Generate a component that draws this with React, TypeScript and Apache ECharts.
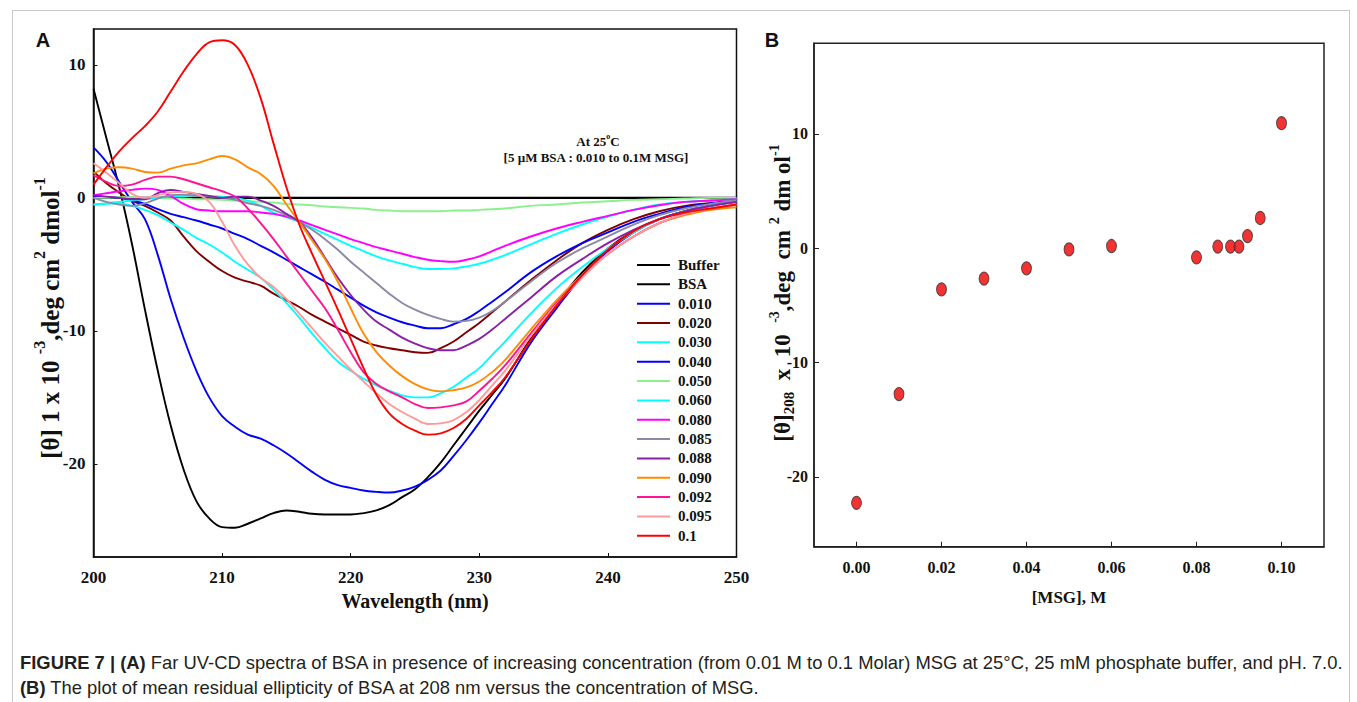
import React, { useEffect, useRef } from "react";
import * as echarts from "echarts";

// ---------- Panel A data (far UV-CD spectra) ----------
const wavelengths = [
  200, 201, 202, 203, 204, 205, 206, 207, 208, 209, 210, 211, 212, 213, 214, 215, 216,
  217, 218, 219, 220, 221, 222, 223, 224, 225, 226, 227, 228, 229, 230, 231, 232,
  234, 236, 238, 240, 242, 244, 246, 248, 250,
];

const seriesNames = [
  "Buffer", "BSA", "0.010", "0.020", "0.030", "0.040", "0.050", "0.060",
  "0.080", "0.085", "0.088", "0.090", "0.092", "0.095", "0.1",
];

const bufferValues = [
  0, 0, 0, 0, 0, 0, 0, 0, 0, 0, 0, 0, 0, 0, 0, 0, 0, 0, 0, 0, 0,
  0, 0, 0, 0, 0, 0, 0, 0, 0, 0, 0, 0, 0, 0, 0, 0, 0, 0, 0, 0, 0,
];
const bsaValues = [
  8.2, 4.5, 0.8, -3.5, -8.4, -13.0, -17.1, -20.4, -22.8, -24.1, -24.75, -24.8, -24.5, -24.1, -23.7, -23.5, -23.6,
  -23.75, -23.8, -23.8, -23.8, -23.7, -23.5, -23.1, -22.5, -21.9, -21.0, -19.9, -18.6, -17.3, -16.0, -14.8, -13.6,
  -10.6, -8.0, -5.6, -3.8, -2.5, -1.6, -1.0, -0.6, -0.3,
];
const msg010Values = [
  3.8, 2.7, 1.2, -0.3, -1.6, -4.3, -7.6, -10.5, -13.0, -15.0, -16.4, -17.2, -17.8, -18.1, -18.6, -19.2, -19.9,
  -20.6, -21.2, -21.6, -21.8, -22.0, -22.1, -22.15, -22.0, -21.7, -21.2, -20.5, -19.4, -18.2, -16.9, -15.5, -14.1,
  -10.9, -8.3, -5.9, -4.0, -2.6, -1.6, -1.0, -0.6, -0.3,
];
const msg020Values = [
  2.0, 1.1, 0.4, -0.2, -0.6, -1.1, -1.7, -2.9, -4.0, -4.8, -5.5, -6.0, -6.3, -6.6, -7.2, -7.7, -8.2,
  -8.8, -9.3, -9.8, -10.3, -10.8, -11.1, -11.3, -11.45, -11.6, -11.65, -11.3, -10.8, -10.1, -9.4, -8.6, -7.8,
  -6.2, -4.7, -3.4, -2.4, -1.6, -1.0, -0.6, -0.4, -0.3,
];
const msg030Values = [
  -0.5, -0.45, -0.4, -0.6, -0.9, -1.3, -1.85, -2.4, -3.0, -3.5, -4.1, -4.8, -5.4, -6.0, -6.9, -7.9, -9.0,
  -10.2, -11.3, -12.3, -13.0, -13.6, -14.1, -14.5, -14.85, -15.0, -15.0, -14.7, -14.2, -13.5, -12.8, -11.8, -10.8,
  -8.7, -6.8, -5.2, -3.8, -2.6, -1.6, -1.0, -0.6, -0.3,
];
const msg040Values = [
  0.1, 0.05, 0.0, -0.2, -0.45, -0.85, -1.2, -1.45, -1.7, -2.0, -2.3, -2.7, -3.1, -3.6, -4.1, -4.65, -5.2,
  -5.75, -6.3, -6.9, -7.5, -8.1, -8.6, -9.0, -9.35, -9.6, -9.8, -9.8, -9.5, -9.1, -8.5, -7.8, -7.1,
  -5.6, -4.4, -3.4, -2.6, -1.8, -1.2, -0.7, -0.4, -0.2,
];
const msg050Values = [
  0, 0, 0.05, 0.05, 0, 0, -0.05, -0.05, -0.1, -0.1, -0.15, -0.2, -0.25, -0.3, -0.35, -0.45, -0.5,
  -0.55, -0.65, -0.7, -0.75, -0.8, -0.9, -0.95, -1.0, -1.0, -1.0, -1.0, -0.95, -0.95, -0.9, -0.85, -0.8,
  -0.6, -0.5, -0.35, -0.25, -0.15, -0.1, -0.05, 0, 0,
];
const msg060Values = [
  -0.5, -0.4, -0.3, -0.2, -0.1, 0.0, 0.1, 0.15, 0.2, 0.15, 0.1, 0.0, -0.2, -0.6, -1.1, -1.45, -1.8,
  -2.25, -2.7, -3.15, -3.6, -4.0, -4.4, -4.7, -4.95, -5.2, -5.35, -5.35, -5.3, -5.15, -4.95, -4.65, -4.3,
  -3.5, -2.7, -2.0, -1.4, -0.9, -0.5, -0.3, -0.2, -0.1,
];
const msg080Values = [
  0.2, 0.35, 0.5, 0.6, 0.7, 0.6, 0.15, -0.45, -0.85, -0.95, -1.0, -1.0, -1.0, -1.1, -1.2, -1.4, -1.7,
  -2.05, -2.4, -2.75, -3.1, -3.4, -3.7, -3.95, -4.2, -4.45, -4.65, -4.75, -4.8, -4.65, -4.4, -4.0, -3.6,
  -2.9, -2.3, -1.8, -1.35, -0.9, -0.55, -0.3, -0.2, -0.1,
];
const msg085Values = [
  0.0, -0.3, -0.5, -0.6, -0.4, -0.05, 0.2, 0.25, 0.15, 0.1, 0.0, -0.15, -0.4, -0.6, -0.9, -1.3, -1.8,
  -2.4, -3.1, -3.9, -4.8, -5.6, -6.4, -7.2, -7.9, -8.4, -8.8, -9.1, -9.3, -9.25, -9.0, -8.5, -7.8,
  -6.3, -4.9, -3.8, -2.9, -2.0, -1.3, -0.8, -0.45, -0.2,
];
const msg088Values = [
  0.2, 0.1, 0.0, -0.1, -0.1, 0.35, 0.6, 0.45, 0.3, 0.15, 0.0, 0.1, 0.1, -0.2, -0.6, -1.2, -1.8,
  -3.0, -4.5, -6.0, -7.3, -8.4, -9.3, -9.9, -10.5, -10.95, -11.3, -11.45, -11.45, -11.1, -10.6, -9.9, -9.1,
  -7.5, -5.9, -4.6, -3.4, -2.4, -1.6, -1.0, -0.6, -0.3,
];
const msg090Values = [
  1.85, 2.2, 2.3, 2.2, 1.95, 1.9, 2.2, 2.45, 2.6, 2.9, 3.15, 2.9, 2.3, 1.8, 0.9, -0.5, -1.8,
  -3.2, -4.6, -6.3, -8.3, -10.2, -11.6, -12.6, -13.4, -14.0, -14.4, -14.55, -14.45, -14.25, -13.8, -13.1, -12.2,
  -9.9, -7.7, -5.8, -4.2, -2.9, -1.9, -1.3, -0.9, -0.7,
];
const msg092Values = [
  1.7, 1.2, 0.9, 1.0, 1.35, 1.6, 1.6, 1.4, 1.1, 0.8, 0.5, 0.1, -0.8, -1.9, -3.1, -4.4, -5.7,
  -7.0, -8.3, -9.9, -11.6, -13.1, -14.0, -14.55, -15.0, -15.5, -15.8, -15.75, -15.6, -15.3, -14.5, -13.6, -12.6,
  -10.2, -7.9, -5.9, -4.2, -2.9, -1.9, -1.2, -0.8, -0.5,
];
const msg095Values = [
  2.6, 1.9, 1.1, 0.3, 0.0, 0.2, 0.4, 0.45, 0.3, -0.3, -1.8, -3.6, -5.0, -6.0, -6.7, -7.6, -8.7,
  -9.8, -10.9, -11.9, -12.9, -13.8, -14.7, -15.5, -16.1, -16.6, -17.0, -16.95, -16.7, -16.1, -15.2, -14.1, -13.0,
  -10.4, -8.0, -6.0, -4.2, -2.9, -1.9, -1.2, -0.8, -0.5,
];
const msg100Values = [
  1.0, 2.3, 3.5, 4.5, 5.4, 6.5, 8.0, 9.5, 10.8, 11.7, 11.85, 11.5, 10.0, 7.5, 4.1, 0.8, -2.0,
  -4.2, -6.3, -8.4, -10.6, -12.8, -14.8, -16.2, -17.0, -17.5, -17.8, -17.7, -17.3, -16.6, -15.6, -14.6, -13.5,
  -10.7, -8.1, -5.8, -3.9, -2.5, -1.6, -1.1, -0.8, -0.5,
];

const spectra = [
  bufferValues, bsaValues, msg010Values, msg020Values, msg030Values, msg040Values, msg050Values,
  msg060Values, msg080Values, msg085Values, msg088Values, msg090Values, msg092Values, msg095Values, msg100Values,
];

const panelAXTicks = [200, 210, 220, 230, 240, 250];
const panelAYTicks = [-20, -10, 0, 10];

// ---------- Panel B data ----------
const msgConcentration = [0.0, 0.01, 0.02, 0.03, 0.04, 0.05, 0.06, 0.08, 0.085, 0.088, 0.09, 0.092, 0.095, 0.1];
const theta208 = [-22.26, -12.75, -3.6, -2.65, -1.75, -0.1, 0.2, -0.8, 0.15, 0.15, 0.15, 1.07, 2.65, 10.94];
const panelBXTicks = [0.0, 0.02, 0.04, 0.06, 0.08, 0.1];
const panelBYTicks = [-20, -10, 0, 10];

// ---------- Styles ----------
const lineColors = [
  "#000000", "#000000", "#0000ff", "#800000", "#00ffff", "#0000ff", "#8cf08c", "#00ffff",
  "#ff00ff", "#8a8aa6", "#8a1fa8", "#ff8c00", "#ff1493", "#ff9a9a", "#ff0000",
];

const SERIF = "'Liberation Serif', 'Times New Roman', serif";
const SANS = "'Liberation Sans', Arial, Helvetica, sans-serif";

export default function App() {
  const ref = useRef<HTMLDivElement>(null);

  useEffect(() => {
    document.body.style.margin = "0";
    if (!ref.current) return;
    const chart = echarts.init(ref.current, undefined, { renderer: "svg" });

    const lineSeries = seriesNames.map((name, i) => ({
      name,
      type: "line",
      xAxisIndex: 0,
      yAxisIndex: 0,
      data: wavelengths.map((w, j) => [w, spectra[i][j]]),
      showSymbol: false,
      symbol: "none",
      smooth: 0.4,
      lineStyle: { color: lineColors[i], width: i === 0 ? 2.4 : 1.9 },
      itemStyle: { color: lineColors[i] },
      z: i === 0 ? 1 : 2,
    }));

    const tickLabelA = { fontFamily: SERIF, fontWeight: "bold", fontSize: 17, color: "#111" };
    const tickLabelB = { fontFamily: SERIF, fontWeight: "bold", fontSize: 16, color: "#111" };

    const option: any = {
      animation: false,
      backgroundColor: "#ffffff",
      grid: [
        { left: 93.5, top: 29, width: 643, height: 528, show: true, borderColor: "#111", borderWidth: 1.5, backgroundColor: "transparent" },
        { left: 814, top: 43.3, width: 510, height: 503.4, show: true, borderColor: "#222", borderWidth: 1.5, backgroundColor: "transparent" },
      ],
      xAxis: [
        {
          type: "value", gridIndex: 0, min: 200, max: 250, interval: 10,
          axisLine: { show: true, onZero: false, lineStyle: { color: "#111", width: 1.5 } },
          axisTick: { show: true, inside: true, length: 4, lineStyle: { color: "#111" }, customValues: panelAXTicks },
          axisLabel: { ...tickLabelA, margin: 12, customValues: panelAXTicks },
          splitLine: { show: false },
          name: "Wavelength (nm)", nameLocation: "middle", nameGap: 32,
          nameTextStyle: { fontFamily: SERIF, fontWeight: "bold", fontSize: 20, color: "#111" },
        },
        {
          type: "value", gridIndex: 1, min: -0.01, max: 0.11,
          axisLine: { show: true, onZero: false, lineStyle: { color: "#222", width: 1.5 } },
          axisTick: { show: true, inside: true, length: 5, lineStyle: { color: "#222" }, customValues: panelBXTicks },
          axisLabel: { ...tickLabelB, margin: 13, customValues: panelBXTicks, formatter: (v: number) => v.toFixed(2) },
          splitLine: { show: false },
          name: "[MSG], M", nameLocation: "middle", nameGap: 42,
          nameTextStyle: { fontFamily: SERIF, fontWeight: "bold", fontSize: 17, color: "#111" },
        },
      ],
      yAxis: [
        {
          type: "value", gridIndex: 0, min: -27, max: 12.7,
          axisLine: { show: true, onZero: false, lineStyle: { color: "#111", width: 1.5 } },
          axisTick: { show: true, inside: true, length: 4, lineStyle: { color: "#111" }, customValues: panelAYTicks },
          axisLabel: { ...tickLabelA, margin: 8, customValues: panelAYTicks },
          splitLine: { show: false },
        },
        {
          type: "value", gridIndex: 1, min: -26.1, max: 17.93,
          axisLine: { show: true, onZero: false, lineStyle: { color: "#222", width: 1.5 } },
          axisTick: { show: true, inside: true, length: 5, lineStyle: { color: "#222" }, customValues: panelBYTicks },
          axisLabel: { ...tickLabelB, margin: 6, customValues: panelBYTicks },
          splitLine: { show: false },
        },
      ],
      legend: {
        data: seriesNames,
        orient: "vertical",
        left: 637,
        top: 256.5,
        padding: 0,
        itemWidth: 33,
        itemHeight: 2,
        itemGap: 2.34,
        icon: "rect",
        selectedMode: false,
        textStyle: { fontFamily: SERIF, fontWeight: "bold", fontSize: 15, lineHeight: 17, color: "#111", padding: [0, 0, 0, 3] },
      },
      series: [
        ...lineSeries,
        {
          name: "theta208",
          type: "scatter",
          xAxisIndex: 1,
          yAxisIndex: 1,
          data: msgConcentration.map((c, i) => [c, theta208[i]]),
          symbol: "circle",
          symbolSize: [10, 13],
          itemStyle: { color: "#ee0000", borderColor: "#333", borderWidth: 1 },
          z: 5,
        },
      ],
      graphic: [
        {
          type: "rect", silent: true, z: -10,
          shape: { x: 12.5, y: 10.5, width: 1337, height: 720 },
          style: { fill: "none", stroke: "#c8c8c8", lineWidth: 1 },
        },
        {
          type: "text", x: 43, y: 40,
          style: { text: "A", font: `bold 20px ${SANS}`, fill: "#111", align: "center", verticalAlign: "middle" },
        },
        {
          type: "text", x: 772, y: 40,
          style: { text: "B", font: `bold 20px ${SANS}`, fill: "#111", align: "center", verticalAlign: "middle" },
        },
        {
          type: "text", x: 47, y: 318, rotation: Math.PI / 2,
          style: {
            text: "{a|[θ] 1 x 10 }{s|-3}{a|,deg cm}{s|2}{a| dmol}{s|-1}",
            align: "center", verticalAlign: "middle", fill: "#111",
            rich: {
              a: { fontFamily: SERIF, fontWeight: "bold", fontSize: 25, lineHeight: 31, verticalAlign: "bottom", fill: "#111" },
              s: { fontFamily: SERIF, fontWeight: "bold", fontSize: 16, lineHeight: 16, verticalAlign: "top", fill: "#111" },
            },
          },
        },
        {
          type: "text", x: 782, y: 293, rotation: Math.PI / 2,
          style: {
            text: "{a|[θ]}{d|208}{a|  x  10  }{s|-3}{a|,deg  cm }{s|2}{a| dm ol}{s|-1}",
            align: "center", verticalAlign: "middle", fill: "#111",
            rich: {
              a: { fontFamily: SERIF, fontWeight: "bold", fontSize: 23, lineHeight: 29, verticalAlign: "middle", fill: "#111" },
              s: { fontFamily: SERIF, fontWeight: "bold", fontSize: 14, lineHeight: 14, verticalAlign: "top", fill: "#111" },
              d: { fontFamily: SERIF, fontWeight: "bold", fontSize: 15, lineHeight: 15, verticalAlign: "bottom", fill: "#111" },
            },
          },
        },
        {
          type: "text", x: 598, y: 140,
          style: {
            text: "{a|At 25}{s|o}{a|C}",
            align: "center", verticalAlign: "middle", fill: "#111",
            rich: {
              a: { fontFamily: SERIF, fontWeight: "bold", fontSize: 13, lineHeight: 16, verticalAlign: "bottom", fill: "#111" },
              s: { fontFamily: SERIF, fontWeight: "bold", fontSize: 8, lineHeight: 8, verticalAlign: "top", fill: "#111" },
            },
          },
        },
        {
          type: "text", x: 596, y: 157,
          style: { text: "[5 µM BSA : 0.010 to 0.1M MSG]", font: `bold 13px ${SERIF}`, fill: "#111", align: "center", verticalAlign: "middle" },
        },
        {
          type: "text", x: 20, y: 662,
          style: {
            text: "{b|FIGURE 7 | (A)}{n| Far UV-CD spectra of BSA in presence of increasing concentration (from 0.01 M to 0.1 Molar) MSG at 25°C, 25 mM phosphate buffer, and pH. 7.0.}",
            align: "left", verticalAlign: "middle",
            rich: {
              b: { fontFamily: SANS, fontWeight: "bold", fontSize: 18.4, fill: "#231f20" },
              n: { fontFamily: SANS, fontSize: 18.4, fill: "#231f20" },
            },
          },
        },
        {
          type: "text", x: 20, y: 687,
          style: {
            text: "{b|(B)}{n| The plot of mean residual ellipticity of BSA at 208 nm versus the concentration of MSG.}",
            align: "left", verticalAlign: "middle",
            rich: {
              b: { fontFamily: SANS, fontWeight: "bold", fontSize: 18.4, fill: "#231f20" },
              n: { fontFamily: SANS, fontSize: 18.4, fill: "#231f20" },
            },
          },
        },
      ],
    };

    chart.setOption(option);
    return () => chart.dispose();
  }, []);

  return <div ref={ref} style={{ width: 1357, height: 702 }} />;
}
